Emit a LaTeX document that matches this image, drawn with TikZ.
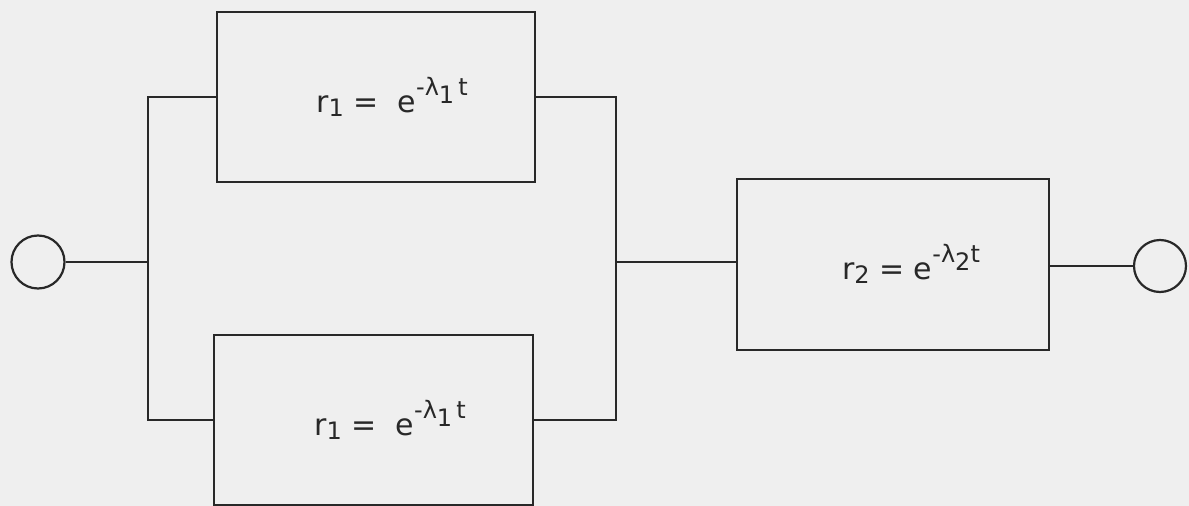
\documentclass[tikz,border=0pt]{standalone}
\usepackage{fontspec}
\newfontfamily\lf{DejaVu Sans}
\definecolor{paper}{RGB}{239,239,239}
\definecolor{ink}{RGB}{40,40,40}
\newcommand{\lsub}[1]{\raisebox{-0.25ex}{\fontsize{24}{26}\selectfont #1}}
\newcommand{\lsup}[1]{\raisebox{1.0ex}{\fontsize{24}{26}\selectfont #1}}
\tikzset{
  blk/.style={draw=ink, line width=2.5pt, rectangle, inner sep=0pt},
  term/.style={draw=ink, line width=2.2pt, circle, inner sep=0pt, minimum size=53pt},
  wire/.style={draw=ink, line width=2.5pt},
  lbl/.style={text=ink, font=\lf\fontsize{30}{33}\selectfont}
}
\begin{document}
\begin{tikzpicture}[x=1pt,y=-1pt]
\fill[paper] (0,0) rectangle (1189,506);
\useasboundingbox (0,0) rectangle (1189,506);
\node[blk, minimum width=318pt, minimum height=170pt] (top) at (376,97) {};
\node[blk, minimum width=319pt, minimum height=170pt] (bot) at (373.5,420) {};
\node[blk, minimum width=312pt, minimum height=171pt] (rb) at (893,264.5) {};
\node[term] (L) at (38,262) {};
\node[term, minimum size=52pt] (R) at (1160,266) {};
\node[lbl] (t1) at (392,97) {r\lsub{1}\ =\ \ e\lsup{-λ\raisebox{-0.6ex}{1}\,t}};
\node[lbl] (t2) at (390,420) {r\lsub{1}\ =\ \ e\lsup{-λ\raisebox{-0.6ex}{1}\,t}};
\node[lbl] (t3) at (911,264) {r\lsub{2} = e\lsup{-λ\raisebox{-0.6ex}{2}t}};
\coordinate (lb) at (148,262);
\coordinate (rbus) at (616,262);
\draw[wire] (L) -- (lb);
\draw[wire] (top.west) -- (top.west -| lb) -- (bot.west -| lb) -- (bot.west);
\draw[wire] (top.east) -- (top.east -| rbus) -- (bot.east -| rbus) -- (bot.east);
\draw[wire] (rbus) -- (rbus -| rb.west);
\draw[wire] (rb.east |- R.west) -- (R.west);
\end{tikzpicture}
\end{document}
